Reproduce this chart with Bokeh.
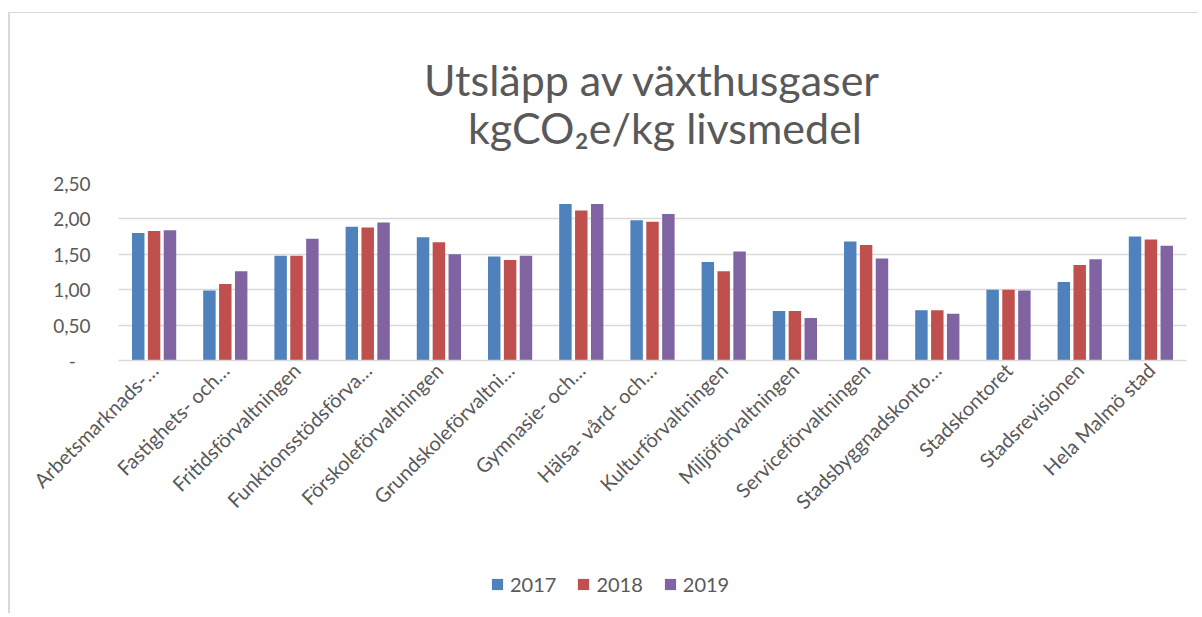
import math
from bokeh.plotting import figure
from bokeh.layouts import column
from bokeh.models import FactorRange, Range1d, FixedTicker, Title, Legend, ColumnDataSource
from bokeh.transform import dodge
from bokeh.embed import file_html
from bokeh.resources import INLINE

categories = [
    "Arbetsmarknads-…", "Fastighets- och…", "Fritidsförvaltningen", "Funktionsstödsförva…",
    "Förskoleförvaltningen", "Grundskoleförvaltni…", "Gymnasie- och…", "Hälsa- vård- och…",
    "Kulturförvaltningen", "Miljöförvaltningen", "Serviceförvaltningen", "Stadsbyggnadskonto…",
    "Stadskontoret", "Stadsrevisionen", "Hela Malmö stad",
]
v2017 = [1.80, 0.99, 1.48, 1.89, 1.74, 1.47, 2.21, 1.98, 1.39, 0.70, 1.68, 0.71, 1.00, 1.11, 1.75]
v2018 = [1.83, 1.08, 1.48, 1.88, 1.67, 1.42, 2.12, 1.96, 1.26, 0.70, 1.63, 0.71, 1.00, 1.35, 1.71]
v2019 = [1.84, 1.26, 1.72, 1.95, 1.50, 1.48, 2.21, 2.07, 1.54, 0.60, 1.44, 0.66, 0.99, 1.43, 1.62]
years = ["2017", "2018", "2019"]
colors = ["#4F81BD", "#C0504D", "#8064A2"]
y_ticks = [0, 0.5, 1.0, 1.5, 2.0, 2.5]
y_labels = ["-\u00a0\u00a0\u00a0", "0,50", "1,00", "1,50", "2,00", "2,50"]
title_line1 = "Utsläpp av växthusgaser"
title_line2 = "kgCO\u2082e/kg livsmedel"

FONT = "Lato"
GRAY = "#595959"
BORDER = "#d9d9d9"

src = ColumnDataSource(dict(cat=categories, y2017=v2017, y2018=v2018, y2019=v2019))

p = figure(
    x_range=FactorRange(*categories), y_range=Range1d(0, 2.5),
    width=1190, height=557, output_backend="svg", toolbar_location=None,
    min_border_left=108, min_border_right=14, min_border_top=170, min_border_bottom=210,
)
p.margin = (12, 0, 0, 8)
p.styles = {"border-left": f"2px solid {BORDER}", "border-top": f"1px solid {BORDER}"}
p.outline_line_color = None

offsets = [-0.223, 0.0, 0.223]
for yr, col, off in zip(years, colors, offsets):
    p.vbar(x=dodge("cat", off, range=p.x_range), top="y" + yr, width=0.175,
           source=src, fill_color=col, line_color=None)

# two-line title; second line padded so that it sits centred under the first
p.title = Title(text=title_line1 + "\n" + "\u00a0" * 4 + title_line2,
                align="center", offset=-40, text_font=FONT, text_font_size="43px",
                text_color=GRAY, text_font_style="normal", text_line_height=0.95,
                standoff=60)

p.yaxis.ticker = FixedTicker(ticks=y_ticks)
p.yaxis.major_label_overrides = {t: l for t, l in zip(y_ticks, y_labels)}
p.yaxis.axis_line_color = None
p.yaxis.major_tick_line_color = None
p.yaxis.minor_tick_line_color = None
p.yaxis.major_tick_out = 0
p.yaxis.major_tick_in = 0
p.yaxis.major_label_standoff = 28
p.yaxis.major_label_text_font = FONT
p.yaxis.major_label_text_font_size = "19px"
p.yaxis.major_label_text_color = GRAY

p.xaxis.axis_line_color = BORDER
p.xaxis.axis_line_width = 1.5
p.xaxis.major_tick_line_color = None
p.xaxis.minor_tick_line_color = None
p.xaxis.major_tick_out = 0
p.xaxis.major_tick_in = 0
p.xaxis.major_label_orientation = math.pi / 4
p.xaxis.major_label_standoff = 6
p.xaxis.major_label_text_font = FONT
p.xaxis.major_label_text_font_size = "20px"
p.xaxis.major_label_text_color = GRAY

p.xgrid.grid_line_color = None
p.ygrid.grid_line_color = BORDER
p.ygrid.grid_line_width = 1.5

# legend strip below the chart (its frame is aligned with the chart's frame)
lg = figure(width=1190, height=44, output_backend="svg", toolbar_location=None,
            x_range=Range1d(0, 1), y_range=Range1d(0, 1),
            x_axis_location=None, y_axis_location=None,
            min_border_left=0, min_border_right=0, min_border_top=0, min_border_bottom=0)
lg.margin = (0, 0, 0, 8)
lg.styles = {"border-left": f"2px solid {BORDER}"}
lg.outline_line_color = None
lg.grid.visible = False
items = []
hidden = ColumnDataSource(dict(x=[float("nan")], top=[float("nan")]))
for yr, col in zip(years, colors):
    r = lg.vbar(x="x", top="top", width=0.1, source=hidden, fill_color=col, line_color=None)
    items.append((yr, [r]))
legend = Legend(items=items, orientation="horizontal", location=(372, 17),
                glyph_width=14, glyph_height=14, label_standoff=6, spacing=20,
                label_text_font=FONT, label_text_font_size="20px", label_text_color=GRAY,
                border_line_color=None, background_fill_alpha=0, padding=4, margin=0)
lg.add_layout(legend)

layout = column(p, lg, spacing=0)
open("out.html", "w").write(file_html(layout, INLINE))
